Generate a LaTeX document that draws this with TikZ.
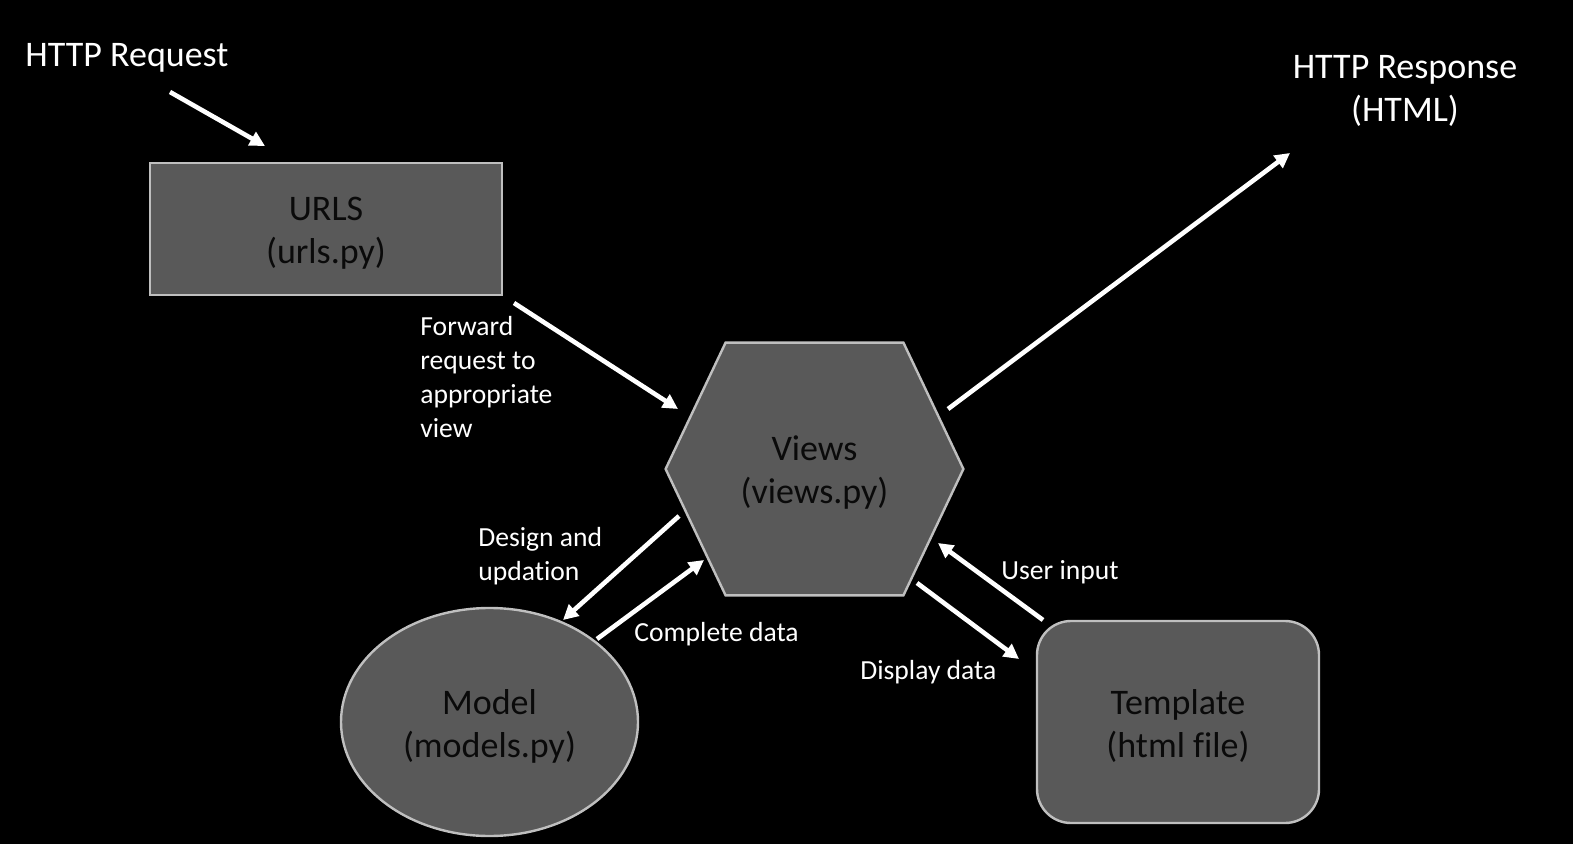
\documentclass[tikz,border=0pt]{standalone}
\usepackage{fontspec}
\setmainfont{Carlito}[Ligatures=NoCommon]
\usetikzlibrary{arrows.meta,shapes.geometric,calc,backgrounds}
\definecolor{shapefill}{RGB}{89,89,89}
\definecolor{shapeline}{RGB}{191,191,191}
\definecolor{shapetext}{RGB}{10,10,10}
\tikzset{
  bigtext/.style={font=\fontsize{18}{21.5}\selectfont},
  smalltext/.style={font=\fontsize{13.8}{17}\selectfont, text=white, inner sep=0pt, anchor=west, align=left},
  shapebox/.style={fill=shapefill, draw=shapeline, line width=1.2pt, inner sep=0pt},
  shapelabel/.style={text=shapetext, align=center, bigtext, inner sep=0pt},
  arr/.style={draw=white, line width=2.3pt, -{Triangle[length=7.5pt,width=7.5pt]}}
}
\begin{document}
\begin{tikzpicture}[x=0.5pt,y=-0.5pt]
\begin{scope}[on background layer]
\fill[black] (0,0) rectangle (1573,844);
\end{scope}
\useasboundingbox (0,0) rectangle (1573,844);

% shapes
\node[shapebox, rectangle, minimum width=176pt, minimum height=66pt] (urls) at (326,229) {};
\node[inner sep=0pt, minimum width=148.5pt, minimum height=126pt] (views) at (814.5,469) {};
\draw[shapebox]
  ($(views.north west)+(60,0)$) -- ($(views.north east)+(-60,0)$) -- (views.east)
  -- ($(views.south east)+(-60,0)$) -- ($(views.south west)+(60,0)$) -- (views.west) -- cycle;
\node[shapebox, ellipse, minimum width=148.5pt, minimum height=114pt] (model) at (489.5,722) {};
\node[shapebox, rectangle, rounded corners=17pt, minimum width=141pt, minimum height=101pt] (tmpl) at (1178,722) {};

% texts inside shapes
\node[shapelabel] (urlstxt) at ([yshift=-2pt]urls.center) {URLS\\(urls.py)};
\node[shapelabel] (viewstxt) at ([yshift=-2pt]views.center) {Views\\(views.py)};
\node[shapelabel] (modeltxt) at ([yshift=-2pt]model.center) {Model\\(models.py)};
\node[shapelabel] (tmpltxt) at ([yshift=-2pt]tmpl.center) {Template\\(html file)};

% free labels
\node[bigtext, text=white, inner sep=0pt, anchor=west] (req) at (25,58) {HTTP Request};
\node[bigtext, text=white, inner sep=0pt, align=center] (resp) at (1405,91) {HTTP Response\\(HTML)};
\node[smalltext] (fwdlbl) at (420,377) {Forward\\request to\\appropriate\\view};
\node[smalltext] (deslbl) at (478,556) {Design and\\updation};
\node[smalltext] (comlbl) at (634,634) {Complete data};
\node[smalltext] (usrlbl) at (1001,572) {User input};
\node[smalltext] (dislbl) at (860,672) {Display data};

% arrow end points
\coordinate (reqS) at (170,92);  \coordinate (reqE) at (265,146);
\coordinate (fwdS) at (514,303); \coordinate (fwdE) at (678,409);
\coordinate (respS) at (948,409); \coordinate (respE) at (1290,153);
\coordinate (desS) at (679,516); \coordinate (desE) at (563,620);
\coordinate (comS) at (597,639); \coordinate (comE) at (704,560);
\coordinate (usrS) at (1043,620); \coordinate (usrE) at (938,543);
\coordinate (disS) at (917,583); \coordinate (disE) at (1019,659);

\draw[arr] (reqS) -- (reqE);
\draw[arr] (fwdS) -- (fwdE);
\draw[arr] (respS) -- (respE);
\draw[arr] (desS) -- (desE);
\draw[arr] (comS) -- (comE);
\draw[arr] (usrS) -- (usrE);
\draw[arr] (disS) -- (disE);
\end{tikzpicture}
\end{document}
